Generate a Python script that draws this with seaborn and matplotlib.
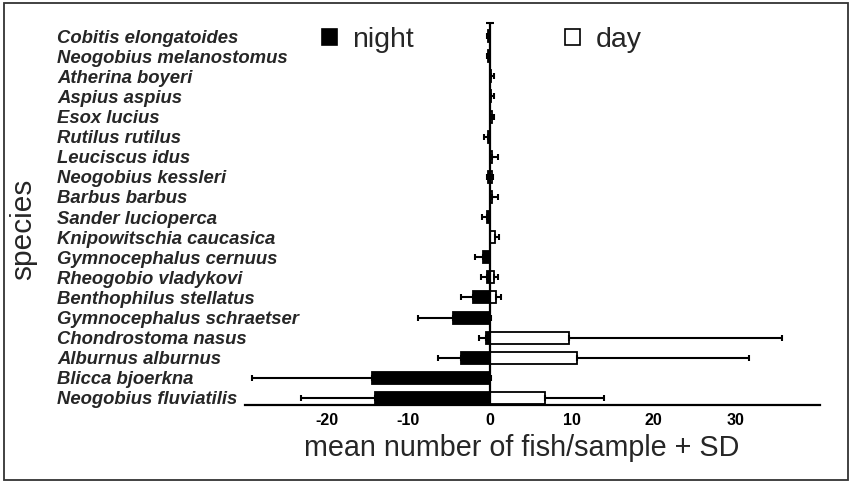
import numpy as np
import pandas as pd
import matplotlib
matplotlib.use("Agg")
import matplotlib.pyplot as plt
import seaborn as sns

species = ["Cobitis elongatoides", "Neogobius melanostomus", "Atherina boyeri",
           "Aspius aspius", "Esox lucius", "Rutilus rutilus", "Leuciscus idus",
           "Neogobius kessleri", "Barbus barbus", "Sander lucioperca",
           "Knipowitschia caucasica", "Gymnocephalus cernuus", "Rheogobio vladykovi",
           "Benthophilus stellatus", "Gymnocephalus schraetser", "Chondrostoma nasus",
           "Alburnus alburnus", "Blicca bjoerkna", "Neogobius fluviatilis"]

# mean number of fish per sample and SD
night = [0.2, 0.2, 0, 0, 0, 0.2, 0, 0.3, 0, 0.4, 0, 0.8, 0.4, 2.1, 4.5, 0.45, 3.5, 14.4, 14.1]
night_sd = [0.2, 0.2, 0, 0, 0, 0.5, 0, 0.1, 0, 0.6, 0, 1.1, 0.7, 1.5, 4.3, 0.95, 2.9, 14.8, 9.1]
day = [0, 0, 0.1, 0.1, 0.2, 0, 0.3, 0.2, 0.3, 0, 0.6, 0, 0.5, 0.7, 0.05, 9.7, 10.7, 0.05, 6.7]
day_sd = [0, 0, 0.4, 0.4, 0.3, 0, 0.7, 0.2, 0.7, 0, 0.5, 0, 0.5, 0.7, 0.1, 26.0, 21.0, 0.1, 7.3]

xticks = [-20, -10, 0, 10, 20, 30]

df = pd.DataFrame({
    "species": species * 2,
    "period": ["night"] * len(species) + ["day"] * len(species),
    "count": [-v for v in night] + list(day),
})

sns.set_style("white")
plt.rcParams["font.family"] = ["Liberation Sans", "DejaVu Sans"]

fig = plt.figure(figsize=(8.5, 4.83), dpi=100)
ax = fig.add_axes([245 / 850, 78 / 483, 575 / 850, 382.3 / 483])

sns.barplot(data=df, x="count", y="species", hue="period", dodge=False,
            palette={"night": "black", "day": "white"}, edgecolor="black",
            linewidth=1.3, width=0.6, orient="h", errorbar=None, ax=ax)

pos = np.arange(len(species))
nm = np.array(night_sd) > 0
dm = np.array(day_sd) > 0
ax.errorbar(-np.array(night)[nm], pos[nm],
            xerr=[np.array(night_sd)[nm], np.zeros(nm.sum())],
            fmt="none", ecolor="black", elinewidth=1.5, capsize=2.5, capthick=1.5)
ax.errorbar(np.array(day)[dm], pos[dm],
            xerr=[np.zeros(dm.sum()), np.array(day_sd)[dm]],
            fmt="none", ecolor="black", elinewidth=1.5, capsize=2.5, capthick=1.5)

ax.set_xlim(-30, 40.4)
ax.set_ylim(18.35, -0.67)
ax.axvline(0, color="black", lw=1.6)
ax.plot([0], [-0.67], marker="_", ms=6, mew=1.5, color="black", clip_on=False)

for s in ["top", "right", "left"]:
    ax.spines[s].set_visible(False)
ax.spines["bottom"].set_linewidth(1.6)
ax.spines["bottom"].set_color("black")

ax.set_xticks(xticks)
ax.set_xticklabels([str(t) for t in xticks], fontsize=11.5, fontweight="bold")
ax.tick_params(axis="x", direction="inout", length=6, width=1.5, pad=3, colors="black")
ax.tick_params(axis="y", length=0, pad=135)
for lab in ax.get_yticklabels():
    lab.set_ha("left")
    lab.set_fontsize(13.3)
    lab.set_fontstyle("italic")
    lab.set_fontweight("bold")

ax.set_xlabel("mean number of fish/sample + SD", fontsize=20.7)
ax.xaxis.set_label_coords(0.481, -0.1125)
ax.xaxis.label.set_va("center")
ax.set_ylabel("species", fontsize=21.5)
ax.yaxis.set_label_coords(-0.385, 0.46)
ax.yaxis.label.set_va("center")

sns.move_legend(ax, loc="center left", bbox_to_anchor=(322 / 850, 1 - 40 / 483),
                bbox_transform=fig.transFigure, ncol=2, frameon=False, title=None,
                fontsize=20.5, handlelength=0.52, handleheight=0.52, handletextpad=0.55,
                columnspacing=5.3, borderpad=0, borderaxespad=0)
leg = ax.get_legend()
for h in leg.legend_handles:
    h.set_linewidth(1.2)

fig.add_artist(plt.Rectangle((4 / 850, 3 / 483), 844 / 850, 477 / 483,
                             transform=fig.transFigure, fill=False,
                             edgecolor="#333333", lw=1.3))

fig.savefig("out.png", dpi=100)
